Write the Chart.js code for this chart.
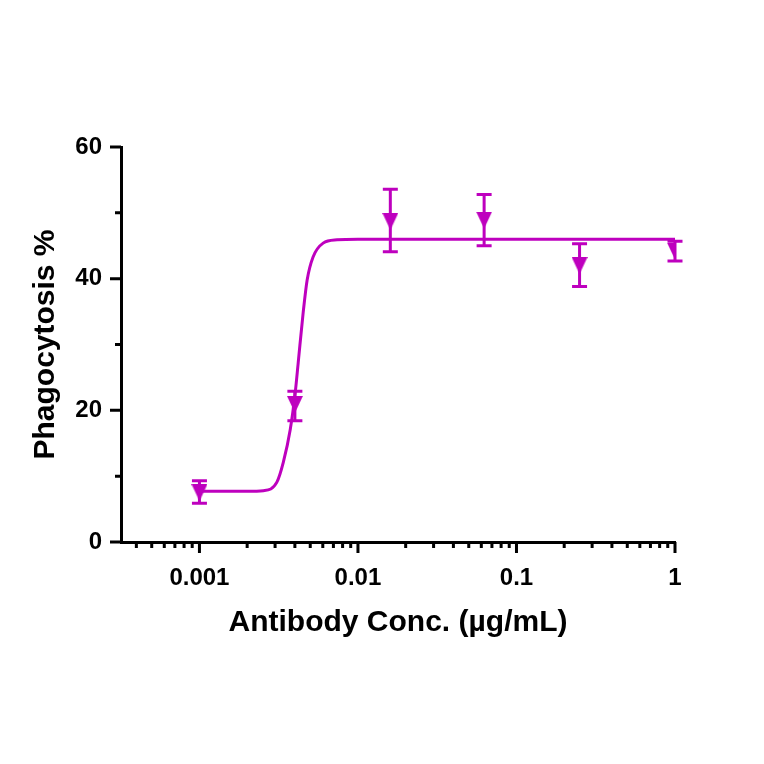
<!DOCTYPE html>
<html><head><meta charset="utf-8">
<script src="https://cdn.jsdelivr.net/npm/chart.js@4/dist/chart.umd.min.js"></script>
<style>html,body{margin:0;padding:0;background:#fff}#wrap{width:764px;height:764px}</style>
</head><body><div id="wrap"><canvas id="c" width="764" height="764"></canvas></div>
<script>
// ---- data ----
const concentrations   = [0.001, 0.004, 0.016, 0.0625, 0.25, 1];
const phagocytosisMean = [7.5, 20.9, 48.7, 48.9, 42.0, 44.2];
const errorUpper       = [9.3, 22.9, 53.6, 52.8, 45.3, 45.7];
const errorLower       = [5.9, 18.4, 44.1, 45.0, 38.8, 42.7];
// fitted curve, points
const fitCurveX = [0.001, 0.002, 0.00253, 0.00308, 0.00338, 0.00374, 0.00402, 0.0042, 0.00451, 0.00478, 0.00521, 0.00603, 0.00738, 0.01, 0.1, 1];
const fitCurveY = [7.7, 7.7, 7.8, 9.1, 12.1, 17.1, 22.7, 27.3, 34.8, 39.8, 43.3, 45.4, 45.9, 46.0, 46.0, 46.0];
const xTickValues = [0.001, 0.01, 0.1, 1];
const xTickLabels = ['0.001', '0.01', '0.1', '1'];
const xMinorTicks = [0.0004,0.0005,0.0006,0.0007,0.0008,0.0009,
                     0.002,0.003,0.004,0.005,0.006,0.007,0.008,0.009,
                     0.02,0.03,0.04,0.05,0.06,0.07,0.08,0.09,
                     0.2,0.3,0.4,0.5,0.6,0.7,0.8,0.9];
const yTickValues = [0, 20, 40, 60];
const yMinorTicks = [10, 30, 50];
const xAxisTitle = 'Antibody Conc. (µg/mL)';
const yAxisTitle = 'Phagocytosis %';

const COLOR = '#BE00BE';
const FONT = '"Liberation Sans", Arial, sans-serif';

// downward triangle marker
const marker = document.createElement('canvas');
marker.width = 16; marker.height = 17;
(function(){
  const m = marker.getContext('2d');
  m.fillStyle = COLOR;
  m.beginPath(); m.moveTo(0,0); m.lineTo(16,0); m.lineTo(8,17); m.closePath(); m.fill();
})();

const errorBars = {
  id: 'errorBars',
  beforeDatasetsDraw(chart) {
    const {ctx, scales:{x, y}} = chart;
    ctx.save();
    ctx.strokeStyle = COLOR; ctx.lineWidth = 3; ctx.lineCap = 'butt';
    concentrations.forEach((c, i) => {
      const px = x.getPixelForValue(c);
      const yt = y.getPixelForValue(errorUpper[i]);
      const yb = y.getPixelForValue(errorLower[i]);
      ctx.beginPath();
      ctx.moveTo(px, yt); ctx.lineTo(px, yb);
      ctx.moveTo(px - 7.5, yt); ctx.lineTo(px + 7.5, yt);
      ctx.moveTo(px - 7.5, yb); ctx.lineTo(px + 7.5, yb);
      ctx.stroke();
    });
    ctx.restore();
  }
};

const tickMarks = {
  id: 'tickMarks',
  afterDraw(chart) {
    const {ctx, chartArea, scales:{x, y}} = chart;
    ctx.save();
    ctx.strokeStyle = '#000'; ctx.lineWidth = 3; ctx.lineCap = 'butt';
    ctx.beginPath();
    const L = chartArea.left, B = chartArea.bottom;
    yTickValues.forEach(v => { const p = y.getPixelForValue(v); ctx.moveTo(L - 11, p); ctx.lineTo(L, p); });
    yMinorTicks.forEach(v => { const p = y.getPixelForValue(v); ctx.moveTo(L - 6, p); ctx.lineTo(L, p); });
    xTickValues.forEach(v => { const p = x.getPixelForValue(v); ctx.moveTo(p, B); ctx.lineTo(p, B + 11); });
    xMinorTicks.forEach(v => { const p = x.getPixelForValue(v); ctx.moveTo(p, B); ctx.lineTo(p, B + 6); });
    ctx.stroke();
    ctx.restore();
  }
};

new Chart(document.getElementById('c'), {
  type: 'line',
  data: {
    datasets: [
      {
        label: 'fit',
        data: fitCurveX.map((v, i) => ({x: v, y: fitCurveY[i]})),
        borderColor: COLOR, borderWidth: 3, pointRadius: 0,
        cubicInterpolationMode: 'monotone', fill: false
      },
      {
        label: 'data',
        data: concentrations.map((v, i) => ({x: v, y: phagocytosisMean[i]})),
        showLine: false, pointStyle: marker, pointRadius: 8,
        borderColor: COLOR, backgroundColor: COLOR
      }
    ]
  },
  options: {
    responsive: false, animation: false, devicePixelRatio: 1,
    layout: { padding: { top: 147, right: 89, bottom: 0, left: 0 } },
    plugins: { legend: { display: false }, tooltip: { enabled: false } },
    scales: {
      x: {
        type: 'logarithmic', min: 0.00032, max: 1, bounds: 'data',
        afterBuildTicks(s) { s.ticks = xTickValues.map(v => ({value: v})); },
        afterFit(s) { s.height = 222; },
        grid: { display: false, drawTicks: false },
        border: { display: true, color: '#000', width: 3 },
        ticks: {
          color: '#000', padding: 22, maxRotation: 0, autoSkip: false,
          font: { family: FONT, size: 24, weight: 'bold' },
          callback(v) { const i = xTickValues.indexOf(v); return i >= 0 ? xTickLabels[i] : ''; }
        },
        title: {
          display: true, text: xAxisTitle, color: '#000',
          font: { family: FONT, size: 30, weight: 'bold' },
          padding: { top: 0, bottom: 123 }
        }
      },
      y: {
        min: 0, max: 60,
        afterBuildTicks(s) { s.ticks = yTickValues.map(v => ({value: v})); },
        afterFit(s) { s.width = 121; },
        grid: { display: false, drawTicks: false },
        border: { display: true, color: '#000', width: 3 },
        ticks: {
          color: '#000', padding: 19,
          font: { family: FONT, size: 24, weight: 'bold' }
        },
        title: {
          display: true, text: yAxisTitle, color: '#000',
          font: { family: FONT, size: 30, weight: 'bold' },
          padding: { top: 28, bottom: 0 }
        }
      }
    }
  },
  plugins: [errorBars, tickMarks]
});
</script>
</body></html>
